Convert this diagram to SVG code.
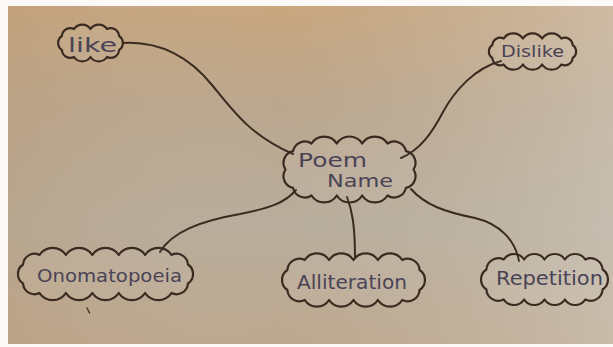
<svg xmlns="http://www.w3.org/2000/svg" width="613" height="347" viewBox="0 0 613 347">
<defs>
<linearGradient id="bgV" x1="0" y1="0" x2="0" y2="1">
<stop offset="0" stop-color="#c9a67e"/>
<stop offset="0.3" stop-color="#bba78e"/>
<stop offset="0.65" stop-color="#b8ad9c"/>
<stop offset="1" stop-color="#bea88e"/>
</linearGradient>
<linearGradient id="bgH" x1="0" y1="0" x2="1" y2="0">
<stop offset="0" stop-color="#b99a78" stop-opacity="0.35"/>
<stop offset="0.45" stop-color="#c0b5a5" stop-opacity="0"/>
<stop offset="1" stop-color="#d2cbc0" stop-opacity="0.55"/>
</linearGradient>
<style>
.cloud{fill:#ffffff;fill-opacity:0.06;stroke:#3a2a20;stroke-width:2.2;stroke-linejoin:round}
.conn{fill:none;stroke:#3a2a20;stroke-width:2;stroke-linecap:round}
.lbl{font-family:"DejaVu Sans","Liberation Sans",sans-serif;fill:#4a4356}
</style>
</defs>
<rect x="0" y="0" width="613" height="347" fill="#fbfaf8"/>
<rect x="8" y="6" width="605" height="338" fill="url(#bgV)"/>
<rect x="8" y="6" width="605" height="338" fill="url(#bgH)"/>

<g id="connectors">
<path class="conn" d="M123,43 C160,41 190,58 212,85 S250,135 293,154"/>
<path class="conn" d="M501,61 C475,68 455,90 443,112 C432,133 420,150 401,158"/>
<path class="conn" d="M296,190 C285,203 270,208 240,214 C200,221 172,232 160,252"/>
<path class="conn" d="M347,197 C352,210 355,225 355,258"/>
<path class="conn" d="M411,189 C425,205 445,212 475,218 C500,224 515,240 519,261"/>
</g>

<g id="node-like">
<path class="cloud" d="M74,29 A10,10 0 0 1 90.5,29 A10,10 0 0 1 107,29 A8.4,8.4 0 0 1 119.1,36 A8.4,8.4 0 0 1 119.1,50 A8.4,8.4 0 0 1 107,57 A10,10 0 0 1 90.5,57 A10,10 0 0 1 74,57 A8.4,8.4 0 0 1 61.9,50 A8.4,8.4 0 0 1 61.9,36 A8.4,8.4 0 0 1 74,29 Z"/>
<text class="lbl" x="68" y="52" font-size="20" textLength="49" lengthAdjust="spacingAndGlyphs">like</text>
</g>

<g id="node-dislike">
<path class="cloud" d="M503.7,38.5 A11.5,11.5 0 0 1 522.9,38.5 A11.5,11.5 0 0 1 542.1,38.5 A11.5,11.5 0 0 1 561.3,38.5 A7.8,7.8 0 0 1 572.6,45 A7.8,7.8 0 0 1 572.6,58 A7.8,7.8 0 0 1 561.3,64.5 A11.5,11.5 0 0 1 542.1,64.5 A11.5,11.5 0 0 1 522.9,64.5 A11.5,11.5 0 0 1 503.7,64.5 A7.8,7.8 0 0 1 492.4,58 A7.8,7.8 0 0 1 492.4,45 A7.8,7.8 0 0 1 503.7,38.5 Z"/>
<text class="lbl" x="501" y="57" font-size="16" textLength="63" lengthAdjust="spacingAndGlyphs">Dislike</text>
</g>

<g id="node-poem">
<path class="cloud" d="M311.5,143.5 A15,15 0 0 1 336.8,143.5 A15,15 0 0 1 362.2,143.5 A15,15 0 0 1 387.5,143.5 A12,12 0 0 1 405.9,151.1 A12,12 0 0 1 413.5,169.5 A12,12 0 0 1 405.9,187.9 A12,12 0 0 1 387.5,195.5 A15,15 0 0 1 362.2,195.5 A15,15 0 0 1 336.8,195.5 A15,15 0 0 1 311.5,195.5 A12,12 0 0 1 293.1,187.9 A12,12 0 0 1 285.5,169.5 A12,12 0 0 1 293.1,151.1 A12,12 0 0 1 311.5,143.5 Z"/>
<text class="lbl" x="298" y="167" font-size="20" textLength="69" lengthAdjust="spacingAndGlyphs">Poem</text>
<text class="lbl" x="327" y="187" font-size="18" textLength="66" lengthAdjust="spacingAndGlyphs">Name</text>
</g>

<g id="node-onomatopoeia">
<path class="cloud" d="M39.5,255 A15.8,15.8 0 0 1 65.9,255 A15.8,15.8 0 0 1 92.3,255 A15.8,15.8 0 0 1 118.7,255 A15.8,15.8 0 0 1 145.1,255 A15.8,15.8 0 0 1 171.5,255 A11.4,11.4 0 0 1 187.95,264.5 A11.4,11.4 0 0 1 187.95,283.5 A11.4,11.4 0 0 1 171.5,293 A15.8,15.8 0 0 1 145.1,293 A15.8,15.8 0 0 1 118.7,293 A15.8,15.8 0 0 1 92.3,293 A15.8,15.8 0 0 1 65.9,293 A15.8,15.8 0 0 1 39.5,293 A11.4,11.4 0 0 1 23.05,283.5 A11.4,11.4 0 0 1 23.05,264.5 A11.4,11.4 0 0 1 39.5,255 Z"/>
<text class="lbl" x="37" y="282" font-size="18" textLength="145" lengthAdjust="spacingAndGlyphs">Onomatopoeia</text>
</g>

<g id="node-alliteration">
<path class="cloud" d="M304.7,260 A14.6,14.6 0 0 1 329.1,260 A14.6,14.6 0 0 1 353.5,260 A14.6,14.6 0 0 1 377.9,260 A14.6,14.6 0 0 1 402.3,260 A12,12 0 0 1 419.6,270 A12,12 0 0 1 419.6,290 A12,12 0 0 1 402.3,300 A14.6,14.6 0 0 1 377.9,300 A14.6,14.6 0 0 1 353.5,300 A14.6,14.6 0 0 1 329.1,300 A14.6,14.6 0 0 1 304.7,300 A12,12 0 0 1 287.4,290 A12,12 0 0 1 287.4,270 A12,12 0 0 1 304.7,260 Z"/>
<text class="lbl" x="297" y="289" font-size="19" textLength="110" lengthAdjust="spacingAndGlyphs">Alliteration</text>
</g>

<g id="node-repetition">
<path class="cloud" d="M503.7,259.5 A12.2,12.2 0 0 1 524.1,259.5 A12.2,12.2 0 0 1 544.5,259.5 A12.2,12.2 0 0 1 564.9,259.5 A12.2,12.2 0 0 1 585.3,259.5 A12,12 0 0 1 602.6,269.5 A12,12 0 0 1 602.6,289.5 A12,12 0 0 1 585.3,299.5 A12.2,12.2 0 0 1 564.9,299.5 A12.2,12.2 0 0 1 544.5,299.5 A12.2,12.2 0 0 1 524.1,299.5 A12.2,12.2 0 0 1 503.7,299.5 A12,12 0 0 1 486.4,289.5 A12,12 0 0 1 486.4,269.5 A12,12 0 0 1 503.7,259.5 Z"/>
<text class="lbl" x="496" y="285" font-size="20" textLength="107" lengthAdjust="spacingAndGlyphs">Repetition</text>
</g>

<path d="M87,308 L89.5,313" stroke="#4a3a30" stroke-width="1.5" stroke-linecap="round" fill="none"/>
</svg>
